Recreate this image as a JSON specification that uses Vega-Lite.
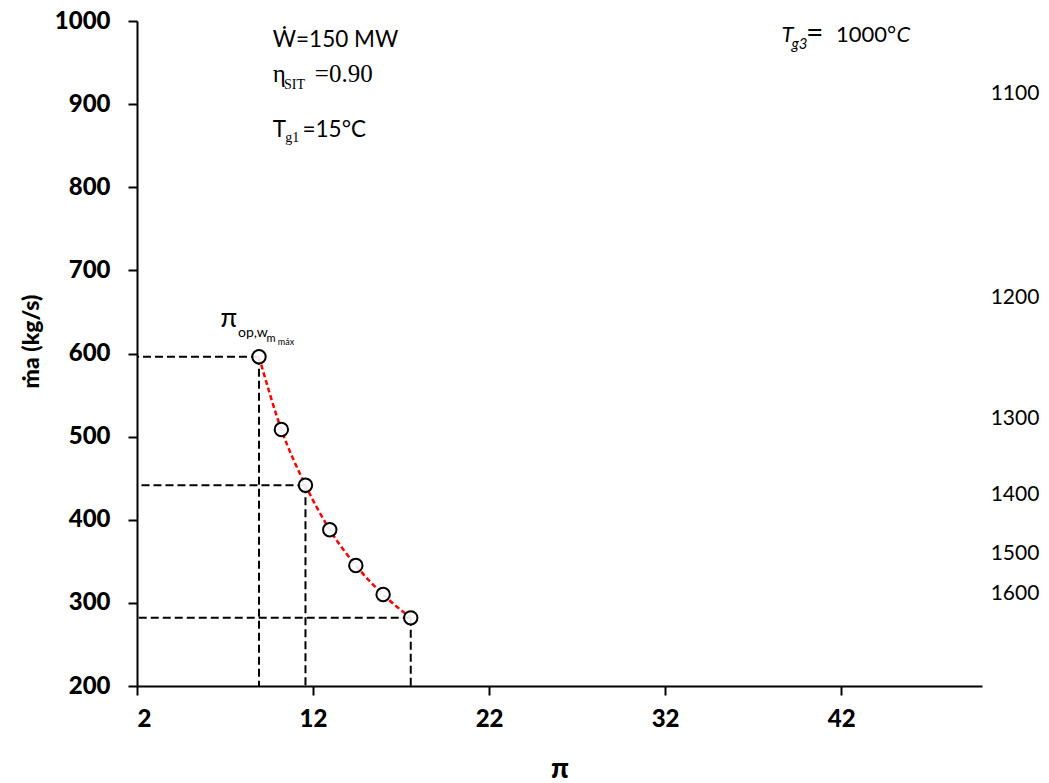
{
  "$schema": "https://vega.github.io/schema/vega-lite/v6.json",
  "autosize": {"type": "none"},
  "padding": {"left": 137, "top": 21, "right": 67, "bottom": 97},
  "width": 845,
  "height": 665,
  "background": "white",
  "config": {
    "view": {"stroke": null},
    "axis": {
      "domainColor": "black", "domainWidth": 2, "tickColor": "black", "tickWidth": 2, "tickSize": 9,
      "labelFont": "Lato", "labelFontWeight": 900, "labelFontSize": 24, "labelColor": "black",
      "titleFont": "Lato", "titleFontWeight": 900, "titleColor": "black", "grid": false
    }
  },
  "datasets": {
    "pts": [
      {"pi": 8.93, "m": 596},
      {"pi": 10.2, "m": 508.5},
      {"pi": 11.57, "m": 441.5},
      {"pi": 12.95, "m": 388},
      {"pi": 14.43, "m": 345},
      {"pi": 15.98, "m": 310},
      {"pi": 17.55, "m": 282}
    ],
    "guides": [
      {"x1": 8.93, "y1": 596, "x2": 2, "y2": 596},
      {"x1": 11.57, "y1": 441.5, "x2": 2, "y2": 441.5},
      {"x1": 17.55, "y1": 282, "x2": 2, "y2": 282},
      {"x1": 8.93, "y1": 596, "x2": 8.93, "y2": 200},
      {"x1": 11.57, "y1": 441.5, "x2": 11.57, "y2": 200},
      {"x1": 17.55, "y1": 282, "x2": 17.55, "y2": 200}
    ],
    "sans22": [
      {"x": 9.71, "y": 968.4, "t": "Ẇ=150 MW"},
      {"x": 9.71, "y": 860.5, "t": "T"},
      {"x": 11.4, "y": 860.5, "t": "=15°C"}
    ],
    "sans21": [
      {"x": 50.49, "y": 904.6, "t": "1100"},
      {"x": 50.49, "y": 660.0, "t": "1200"},
      {"x": 50.49, "y": 513.6, "t": "1300"},
      {"x": 50.49, "y": 422.2, "t": "1400"},
      {"x": 50.49, "y": 351.2, "t": "1500"},
      {"x": 50.49, "y": 303.1, "t": "1600"}
    ],
    "serif24": [
      {"x": 9.71, "y": 926.6, "t": "η"},
      {"x": 12.1, "y": 926.6, "t": "=0.90"}
    ],
    "serif14": [
      {"x": 10.35, "y": 918.7, "t": "SIT"},
      {"x": 10.42, "y": 854.4, "t": "g1"}
    ],
    "ital22": [
      {"x": 38.61, "y": 974.7, "t": "T"},
      {"x": 45.15, "y": 974.7, "t": "C"}
    ],
    "eq": [
      {"x": 40.0, "y": 974.7, "t": "="}
    ],
    "up22": [
      {"x": 41.7, "y": 974.7, "t": "1000°"}
    ],
    "ital14": [
      {"x": 39.18, "y": 966.8, "t": "g3"}
    ],
    "pi26": [{"x": 6.74, "y": 632, "t": "π"}],
    "pi14": [{"x": 7.74, "y": 619.5, "t": "op,w"}],
    "pi11": [{"x": 9.35, "y": 613.8, "t": "m"}],
    "pi9": [{"x": 10.0, "y": 609.9, "t": "máx"}]
  },
  "layer": [
    {
      "data": {"name": "guides"},
      "mark": {"type": "rule", "color": "black", "strokeWidth": 2, "strokeDash": [8, 4]},
      "encoding": {
        "x": {"field": "x1", "type": "quantitative", "scale": {"domain": [2, 50], "nice": false, "zero": false},
              "axis": {"values": [2, 12, 22, 32, 42], "format": "d", "labelPadding": 12, "title": "π", "titleFontSize": 28, "titlePadding": 24}},
        "x2": {"field": "x2"},
        "y": {"field": "y1", "type": "quantitative", "scale": {"domain": [200, 1000], "nice": false, "zero": false},
              "axis": {"values": [200, 300, 400, 500, 600, 700, 800, 900, 1000], "format": "d", "labelPadding": 18, "title": "ṁa (kg/s)", "titleFontSize": 23, "titlePadding": 11, "titleY": 320}},
        "y2": {"field": "y2"}
      }
    },
    {
      "data": {"name": "pts"},
      "mark": {"type": "line", "color": "#ff0000", "strokeWidth": 2.5, "strokeDash": [5, 3], "interpolate": "monotone"},
      "encoding": {
        "x": {"field": "pi", "type": "quantitative"},
        "y": {"field": "m", "type": "quantitative"}
      }
    },
    {
      "data": {"name": "pts"},
      "mark": {"type": "point", "shape": "circle", "filled": false, "fill": "white", "fillOpacity": 0.9, "stroke": "black", "strokeWidth": 2, "size": 180, "opacity": 1},
      "encoding": {
        "x": {"field": "pi", "type": "quantitative"},
        "y": {"field": "m", "type": "quantitative"}
      }
    },
    {
      "data": {"name": "sans22"},
      "mark": {"type": "text", "font": "Lato", "fontSize": 22.5, "align": "left", "baseline": "alphabetic", "color": "black"},
      "encoding": {"x": {"field": "x", "type": "quantitative"}, "y": {"field": "y", "type": "quantitative"}, "text": {"field": "t"}}
    },
    {
      "data": {"name": "sans21"},
      "mark": {"type": "text", "font": "Lato", "fontSize": 21, "align": "left", "baseline": "alphabetic", "color": "black"},
      "encoding": {"x": {"field": "x", "type": "quantitative"}, "y": {"field": "y", "type": "quantitative"}, "text": {"field": "t"}}
    },
    {
      "data": {"name": "serif24"},
      "mark": {"type": "text", "font": "Liberation Serif", "fontSize": 25, "align": "left", "baseline": "alphabetic", "color": "black"},
      "encoding": {"x": {"field": "x", "type": "quantitative"}, "y": {"field": "y", "type": "quantitative"}, "text": {"field": "t"}}
    },
    {
      "data": {"name": "serif14"},
      "mark": {"type": "text", "font": "Liberation Serif", "fontSize": 14, "align": "left", "baseline": "alphabetic", "color": "black"},
      "encoding": {"x": {"field": "x", "type": "quantitative"}, "y": {"field": "y", "type": "quantitative"}, "text": {"field": "t"}}
    },
    {
      "data": {"name": "ital22"},
      "mark": {"type": "text", "font": "Lato", "fontStyle": "italic", "fontSize": 22, "align": "left", "baseline": "alphabetic", "color": "black"},
      "encoding": {"x": {"field": "x", "type": "quantitative"}, "y": {"field": "y", "type": "quantitative"}, "text": {"field": "t"}}
    },
    {
      "data": {"name": "eq"},
      "mark": {"type": "text", "font": "Lato", "fontSize": 30, "align": "left", "baseline": "alphabetic", "color": "black", "dy": 1},
      "encoding": {"x": {"field": "x", "type": "quantitative"}, "y": {"field": "y", "type": "quantitative"}, "text": {"field": "t"}}
    },
    {
      "data": {"name": "up22"},
      "mark": {"type": "text", "font": "Lato", "fontSize": 22, "align": "left", "baseline": "alphabetic", "color": "black"},
      "encoding": {"x": {"field": "x", "type": "quantitative"}, "y": {"field": "y", "type": "quantitative"}, "text": {"field": "t"}}
    },
    {
      "data": {"name": "ital14"},
      "mark": {"type": "text", "font": "Lato", "fontStyle": "italic", "fontSize": 15, "align": "left", "baseline": "alphabetic", "color": "black"},
      "encoding": {"x": {"field": "x", "type": "quantitative"}, "y": {"field": "y", "type": "quantitative"}, "text": {"field": "t"}}
    },
    {
      "data": {"name": "pi26"},
      "mark": {"type": "text", "font": "Lato", "fontSize": 27, "align": "left", "baseline": "alphabetic", "color": "black"},
      "encoding": {"x": {"field": "x", "type": "quantitative"}, "y": {"field": "y", "type": "quantitative"}, "text": {"field": "t"}}
    },
    {
      "data": {"name": "pi14"},
      "mark": {"type": "text", "font": "Lato", "fontSize": 14, "align": "left", "baseline": "alphabetic", "color": "black"},
      "encoding": {"x": {"field": "x", "type": "quantitative"}, "y": {"field": "y", "type": "quantitative"}, "text": {"field": "t"}}
    },
    {
      "data": {"name": "pi11"},
      "mark": {"type": "text", "font": "Lato", "fontSize": 11, "align": "left", "baseline": "alphabetic", "color": "black"},
      "encoding": {"x": {"field": "x", "type": "quantitative"}, "y": {"field": "y", "type": "quantitative"}, "text": {"field": "t"}}
    },
    {
      "data": {"name": "pi9"},
      "mark": {"type": "text", "font": "Lato", "fontSize": 9, "align": "left", "baseline": "alphabetic", "color": "black"},
      "encoding": {"x": {"field": "x", "type": "quantitative"}, "y": {"field": "y", "type": "quantitative"}, "text": {"field": "t"}}
    }
  ]
}
